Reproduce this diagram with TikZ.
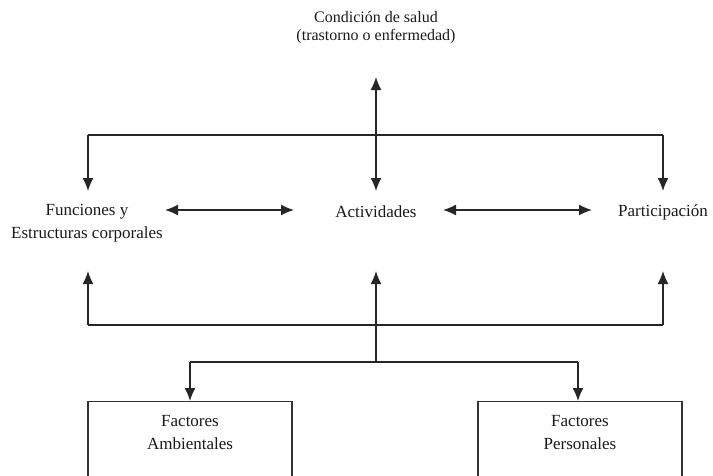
\documentclass[tikz,border=0pt]{standalone}
\usepackage{fontspec}
\setmainfont{Liberation Serif}
\usetikzlibrary{arrows.meta}
\begin{document}
\begin{tikzpicture}[x=1pt,y=-1pt,
  ln/.style={line width=1.4pt, draw=black!85},
  arr/.style={ln,-{Latex[length=13pt,width=11pt]}},
  darr/.style={ln,{Latex[length=13pt,width=11pt]}-{Latex[length=13pt,width=11pt]}},
  lbl/.style={font=\fontsize{17}{23}\selectfont, align=center, inner sep=0pt, text=black!90},
  boxshape/.style={draw=black!80, line width=1.4pt, minimum width=204pt, minimum height=110pt, inner sep=0pt}]
\useasboundingbox (0,0) rectangle (713,475);
\clip (0,0) rectangle (713,475);
% top
\node[lbl, font=\fontsize{16}{18}\selectfont] (cs) at (376,28) {Condición de salud\\(trastorno o enfermedad)};
\coordinate (cstop) at (376,77);
\coordinate (acttop) at (376,191);
\node[lbl] (act) at (376,212) {Actividades};
\node[lbl] (fun) at (87,223) {Funciones y\\Estructuras corporales};
\node[lbl] (par) at (663,212) {Participación};
% top branch
\coordinate (tl) at (88,135);
\coordinate (tr) at (663,135);
\coordinate (funtop) at (88,191);
\coordinate (partop) at (663,191);
\draw[darr] (cstop) -- (acttop);
\draw[ln] (tl) -- (tr);
\draw[arr] (tl) -- (funtop);
\draw[arr] (tr) -- (partop);
% horizontal arrows
\coordinate (h1a) at (165,210);
\coordinate (h1b) at (294,210);
\coordinate (h2a) at (443,210);
\coordinate (h2b) at (592,210);
\draw[darr] (h1a) -- (h1b);
\draw[darr] (h2a) -- (h2b);
% bottom branch
\coordinate (bl) at (88,325);
\coordinate (br) at (663,325);
\coordinate (funbot) at (88,271);
\coordinate (actbot) at (376,271);
\coordinate (parbot) at (663,271);
\coordinate (fm) at (376,362);
\coordinate (fl) at (190,362);
\coordinate (fr) at (578,362);
\draw[ln] (bl) -- (br);
\draw[arr] (bl) -- (funbot);
\draw[arr] (br) -- (parbot);
\draw[arr] (fm) -- (actbot);
\draw[ln] (fl) -- (fr);
% boxes
\node[boxshape, anchor=north] (fa) at (190,401) {};
\node[boxshape, anchor=north] (fp) at (580,401) {};
\node[lbl] (fat) at (190,433) {Factores\\Ambientales};
\node[lbl] (fpt) at (580,433) {Factores\\Personales};
\draw[arr] (fl) -- (fa.north);
\draw[arr] (fr) -- (fr |- fp.north);
\end{tikzpicture}
\end{document}
